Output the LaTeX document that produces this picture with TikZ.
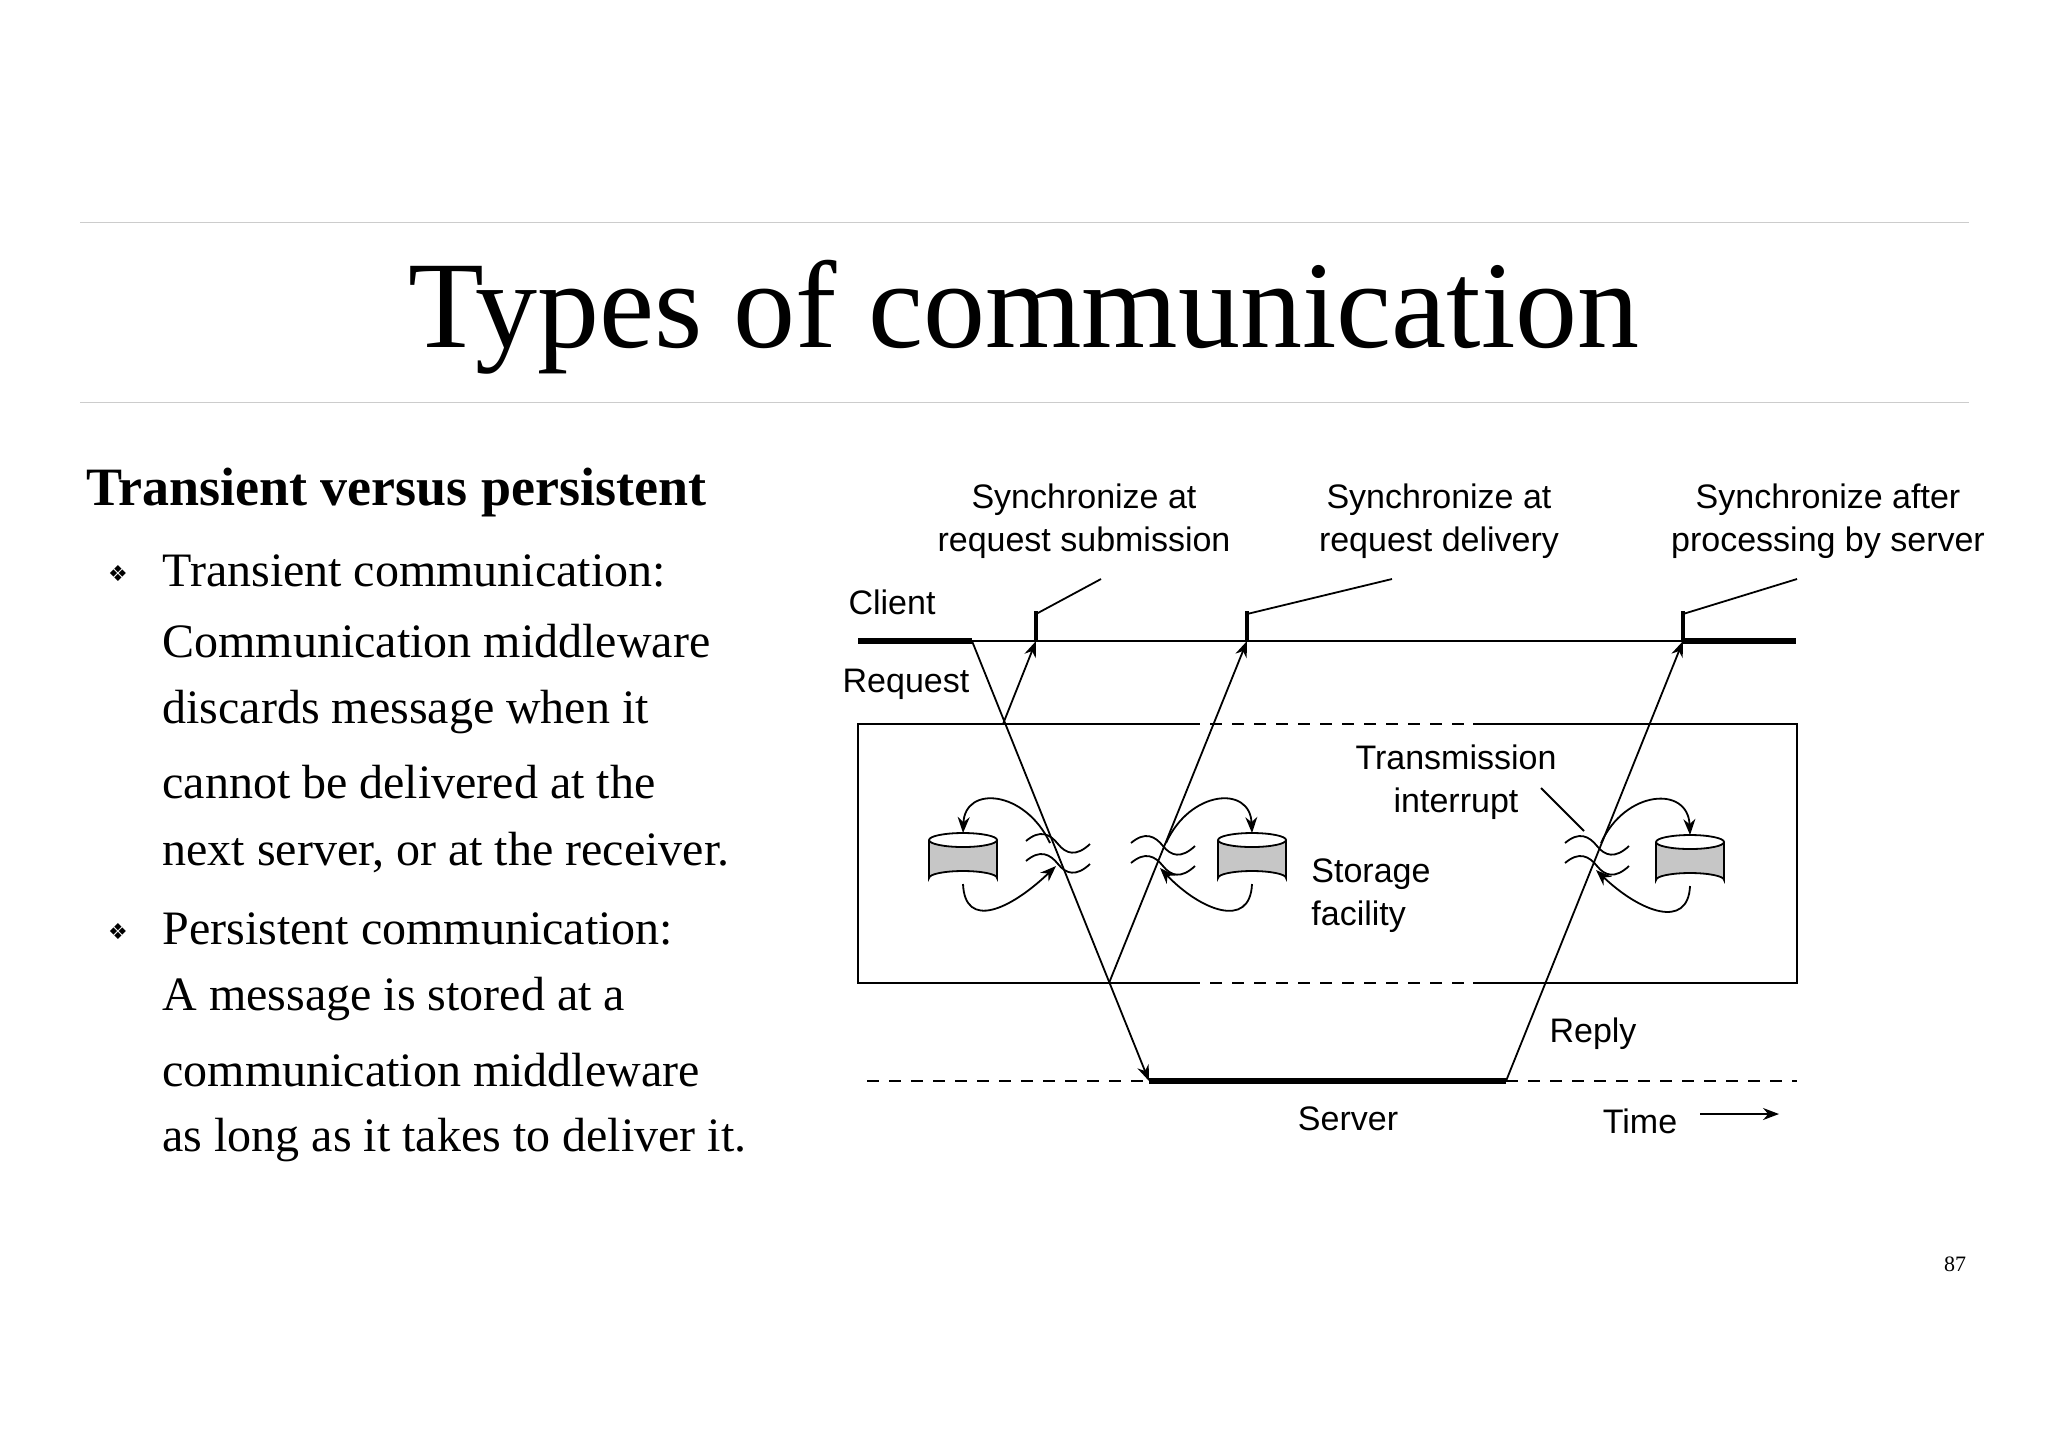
\documentclass[tikz,border=0pt]{standalone}
\usepackage{fontspec}
\setmainfont{Liberation Serif}
\newfontfamily\dsans{Liberation Sans}
\newfontfamily\dju{DejaVu Sans}
\usetikzlibrary{arrows.meta}
\begin{document}
\begin{tikzpicture}[x=0.5pt,y=-0.5pt,
  thin line/.style={line width=0.9pt},
  thick line/.style={line width=2.6pt},
  dash line/.style={line width=0.9pt,dash pattern=on 6pt off 5pt},
  arr/.style={thin line,-{Stealth[length=8pt,width=6pt]}},
  lbl/.style={font=\dsans\fontsize{17}{21.5}\selectfont,align=center,inner sep=0pt},
  body/.style={font=\fontsize{24}{35}\selectfont,anchor=west,inner sep=0pt},
  cyl/.style={thin line,fill=gray!45},
  pics/store/.style={code={
    \draw[cyl] (-34,0) -- (-34,38) arc[start angle=180,end angle=360,x radius=34,y radius=7] -- (34,0);
    \draw[thin line,fill=white] (0,0) ellipse[x radius=34,y radius=7];
  }},
  pics/wave/.style={code={
    \draw[thin line] (-32,-8) .. controls (-18,-20) and (-8,-15) .. (0,-5) .. controls (8,5) and (18,8) .. (32,-5);
    \draw[thin line] (-32,12) .. controls (-18,0) and (-8,5) .. (0,15) .. controls (8,25) and (18,28) .. (32,15);
  }}]
\useasboundingbox (0,0) rectangle (2048,1448);
% rules and title
\draw[gray!40,line width=0.5pt] (80,222) coordinate (r1a) -- (1969,222) coordinate (r1b);
\draw[gray!40,line width=0.5pt] (80,402) coordinate (r2a) -- (1969,402) coordinate (r2b);
\node[font=\fontsize{62}{66}\selectfont,inner sep=0pt] (title) at (1024,317) {Types of communication};
\node[font=\fontsize{11}{13}\selectfont,inner sep=0pt] (pg) at (1955,1264) {87};
% left text
\node[body,font=\bfseries\fontsize{27}{30}\selectfont] (h) at (86,492) {Transient versus persistent};
\foreach \y/\t [count=\i] in {571/Transient communication:,641/Communication middleware,712/discards message when it,782/cannot be delivered at the,853/{next server, or at the receiver.},929/Persistent communication:,999/A message is stored at a,1070/communication middleware,1140/as long as it takes to deliver it.}
  \node[body] (t\i) at (162,\y) {\t};
\node[font=\dju\fontsize{11}{14}\selectfont,inner sep=0pt] (b1) at (118,573) {\char"2756};
\node[font=\dju\fontsize{11}{14}\selectfont,inner sep=0pt] (b2) at (118,931) {\char"2756};
% diagram labels
\node[lbl] (s1) at (1084,521) {Synchronize at\\request submission};
\node[lbl] (s2) at (1439,521) {Synchronize at\\request delivery};
\node[lbl] (s3) at (1828,521) {Synchronize after\\processing by server};
\node[lbl] (client) at (892,602) {Client};
\node[lbl] (request) at (906,684) {Request};
\node[lbl] (ti) at (1456,782) {Transmission\\interrupt};
\node[lbl,align=left,anchor=west] (sf) at (1311,896) {Storage\\facility};
\node[lbl] (reply) at (1593,1034) {Reply};
\node[lbl] (server) at (1348,1119) {Server};
\node[lbl] (time) at (1640,1121) {Time};
\coordinate (ta) at (1700,1114); \coordinate (tb) at (1779,1114);
\draw[arr] (ta) -- (tb);
% client line
\coordinate (c0) at (858,641); \coordinate (c1) at (972,641);
\coordinate (k1) at (1036,641); \coordinate (k2) at (1247,641); \coordinate (k3) at (1683,641);
\coordinate (c4) at (1796,641);
\draw[thick line] (c0) -- (c1);
\draw[thin line] (c1) -- (k3);
\draw[thick line] (k3) -- (c4);
\foreach \k in {k1,k2,k3} \draw[line width=1.6pt] (\k) -- ++(0,-30);
\coordinate (l1) at (1036,614); \coordinate (l2) at (1247,614); \coordinate (l3) at (1683,614);
\coordinate (e1) at (1101,579); \coordinate (e2) at (1392,579); \coordinate (e3) at (1797,579);
\draw[thin line] (l1) -- (e1); \draw[thin line] (l2) -- (e2); \draw[thin line] (l3) -- (e3);
% box
\coordinate (bt1) at (858,724); \coordinate (bt2) at (1188,724); \coordinate (bt3) at (1473,724); \coordinate (bt4) at (1797,724);
\coordinate (bb1) at (858,983); \coordinate (bb2) at (1188,983); \coordinate (bb3) at (1473,983); \coordinate (bb4) at (1797,983);
\draw[thin line] (bt2) -- (bt1) -- (bb1) -- (bb2);
\draw[thin line] (bt3) -- (bt4) -- (bb4) -- (bb3);
\draw[dash line] (bt2) -- (bt3); \draw[dash line] (bb2) -- (bb3);
% server line
\coordinate (sv0) at (867,1081); \coordinate (sv1) at (1149,1081); \coordinate (sv2) at (1506,1081); \coordinate (sv3) at (1797,1081);
\draw[dash line] (sv0) -- (sv1); \draw[dash line] (sv2) -- (sv3);
\draw[thick line] (sv1) -- (sv2);
% messages
\coordinate (p1) at (1003,724); \coordinate (p2) at (1109,983);
\draw[arr] (c1) -- (sv1);
\draw[arr] (p1) -- (k1);
\draw[arr] (p2) -- (k2);
\draw[arr] (sv2) -- (k3);
% storage
\pic at (963,840) {store}; \pic at (1252,840) {store}; \pic at (1690,842) {store};
\pic at (1058,849) {wave}; \pic at (1163,851) {wave}; \pic at (1597,851) {wave};
\coordinate (w1) at (1050,843); \coordinate (w1b) at (1056,866);
\coordinate (w2) at (1166,843); \coordinate (w2b) at (1160,868);
\coordinate (w3) at (1601,843); \coordinate (w3b) at (1596,870);
\draw[arr] (w1) .. controls (1025,790) and (965,785) .. (963,833);
\draw[arr] (963,884) .. controls (965,930) and (1010,910) .. (w1b);
\draw[arr] (w2) .. controls (1190,790) and (1250,785) .. (1252,833);
\draw[arr] (1252,884) .. controls (1250,930) and (1200,910) .. (w2b);
\draw[arr] (w3) .. controls (1625,790) and (1688,785) .. (1690,835);
\draw[arr] (1690,886) .. controls (1688,930) and (1640,912) .. (w3b);
\coordinate (ti1) at (1541,788); \coordinate (ti2) at (1584,831);
\draw[thin line] (ti1) -- (ti2);
\end{tikzpicture}
\end{document}
